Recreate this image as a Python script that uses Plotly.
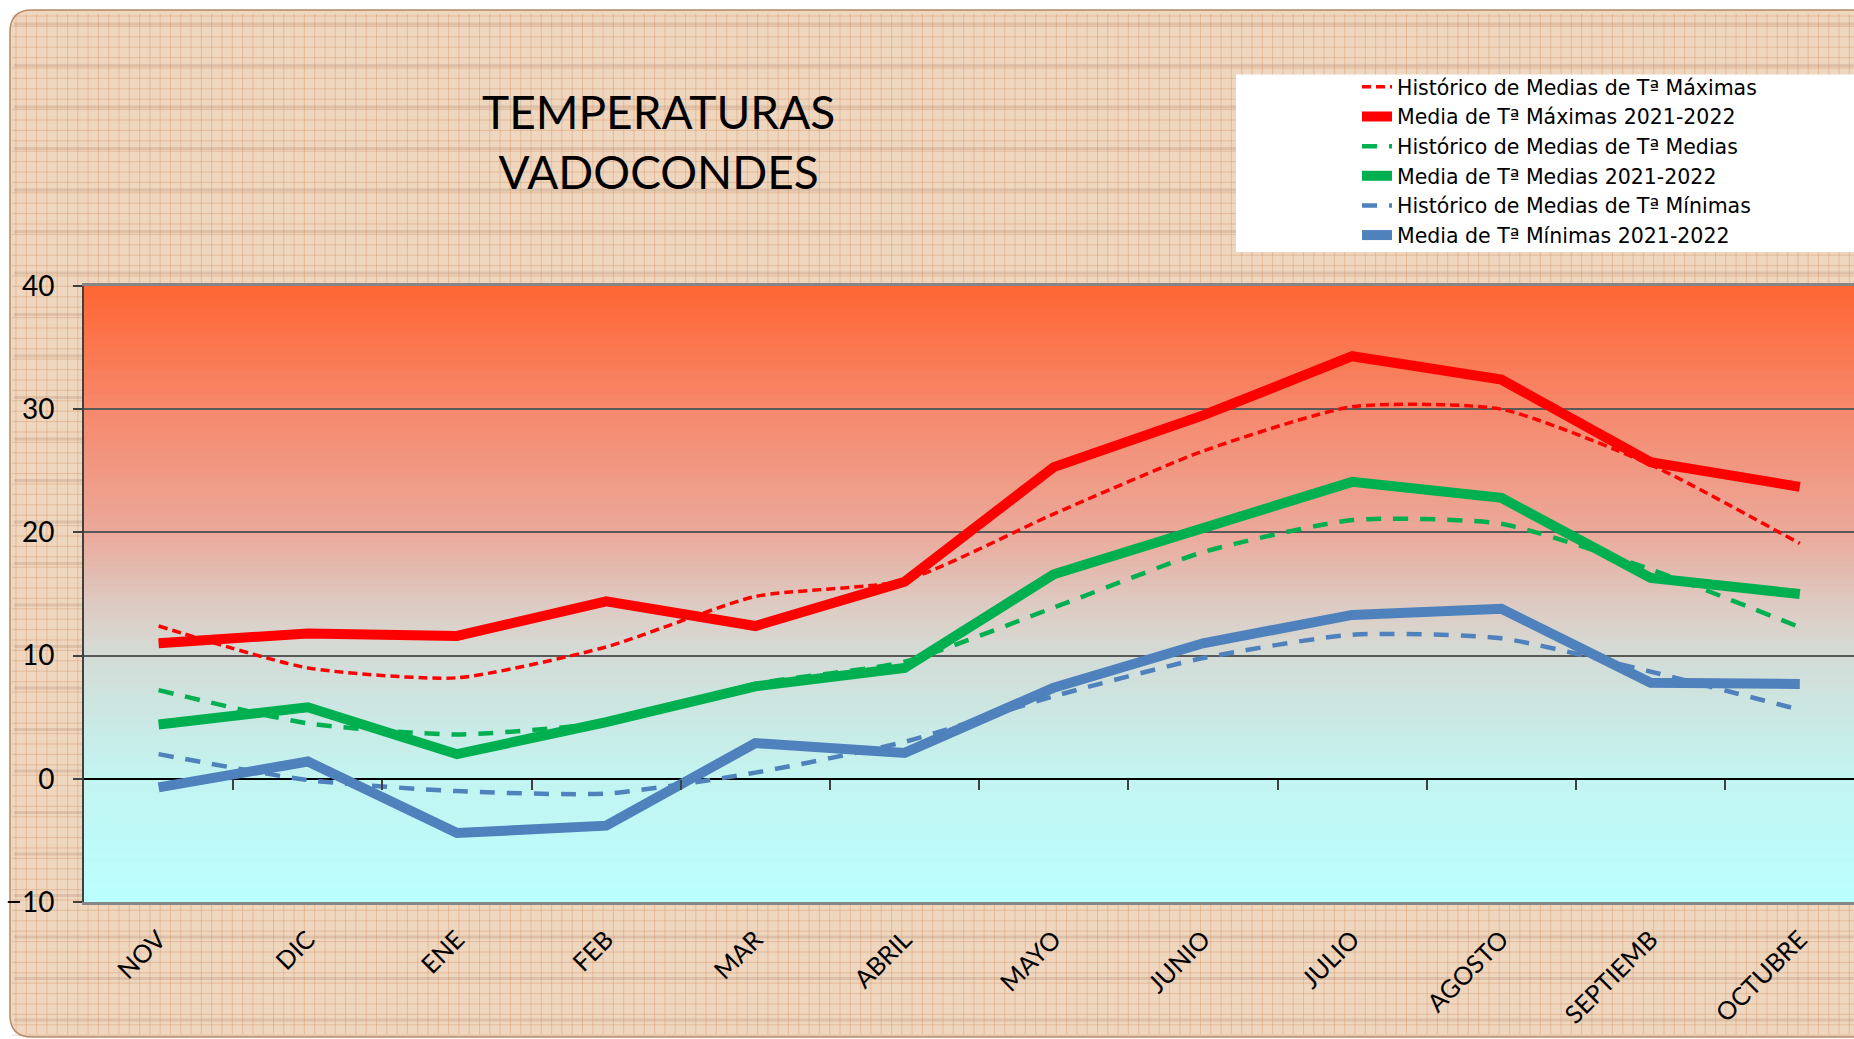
import plotly.graph_objects as go

# ---------------- data ----------------
months = ["NOV", "DIC", "ENE", "FEB", "MAR", "ABRIL", "MAYO", "JUNIO", "JULIO", "AGOSTO", "SEPTIEMB", "OCTUBRE"]
hist_max = [12.4, 9.0, 8.2, 10.7, 14.8, 16.1, 21.5, 26.6, 30.2, 30.0, 25.5, 19.1]
media_max = [11.0, 11.8, 11.6, 14.4, 12.4, 16.0, 25.3, 29.5, 34.3, 32.4, 25.7, 23.7]
hist_med = [7.2, 4.5, 3.6, 4.6, 7.7, 9.5, 13.9, 18.4, 21.0, 20.7, 17.0, 12.3]
media_med = [4.4, 5.8, 2.0, 4.6, 7.5, 9.0, 16.6, 20.4, 24.1, 22.8, 16.3, 15.0]
hist_min = [2.0, -0.1, -1.0, -1.2, 0.5, 3.0, 6.7, 9.8, 11.7, 11.4, 8.7, 5.6]
media_min = [-0.7, 1.4, -4.4, -3.8, 2.9, 2.1, 7.4, 11.0, 13.3, 13.8, 7.8, 7.7]

series_names = [
    "Histórico de Medias de Tª Máximas",
    "Media de Tª Máximas 2021-2022",
    "Histórico de Medias de Tª Medias",
    "Media de Tª Medias 2021-2022",
    "Histórico de Medias de Tª Mínimas",
    "Media de Tª Mínimas 2021-2022",
]

W, H = 1854, 1039
FONT = "Lato"
LFONT = "DejaVu Sans"

# plot area in px
PX0, PX1 = 84, 1854
PY0, PY1 = 286, 902
cat_w = 149.2
x_hi = -0.5 + (PX1 - PX0) / cat_w

def px(x):
    return x / W

def py(y):
    return 1 - y / H

dom_x = [px(PX0), 1.0]
dom_y = [py(PY1), py(PY0)]

fig = go.Figure()

RED, GREEN, BLUE = "#FF0000", "#00B050", "#4F81BD"

fig.add_trace(go.Scatter(x=months, y=hist_max, mode="lines", name=series_names[0],
                         line=dict(color=RED, width=3.5, dash="9px,5px", shape="spline", smoothing=0.6)))
fig.add_trace(go.Scatter(x=months, y=media_max, mode="lines", name=series_names[1],
                         line=dict(color=RED, width=10)))
fig.add_trace(go.Scatter(x=months, y=hist_med, mode="lines", name=series_names[2],
                         line=dict(color=GREEN, width=4.5, dash="15px,12px", shape="spline", smoothing=0.6)))
fig.add_trace(go.Scatter(x=months, y=media_med, mode="lines", name=series_names[3],
                         line=dict(color=GREEN, width=10)))
fig.add_trace(go.Scatter(x=months, y=hist_min, mode="lines", name=series_names[4],
                         line=dict(color=BLUE, width=4.5, dash="15px,12px", shape="spline", smoothing=0.6)))
fig.add_trace(go.Scatter(x=months, y=media_min, mode="lines", name=series_names[5],
                         line=dict(color=BLUE, width=10)))
# empty trace to create the tick axis at y=0
fig.add_trace(go.Scatter(x=[], y=[], xaxis="x2", yaxis="y", showlegend=False, hoverinfo="skip"))

shapes = []
# rounded background panel
x0, x1 = px(10), px(1880)
y_top, y_bot = py(10), py(1037)
rx, ry = 22 / W, 22 / H
panel = (f"M {x0+rx},{y_top} L {x1},{y_top} L {x1},{y_bot} L {x0+rx},{y_bot} "
         f"Q {x0},{y_bot} {x0},{y_bot+ry} L {x0},{y_top-ry} Q {x0},{y_top} {x0+rx},{y_top} Z")
shapes.append(dict(type="path", xref="paper", yref="paper", path=panel,
                   fillcolor="#EFD6BF", line=dict(color="#B48A68", width=1.5), layer="below"))

# wood-like streaks
streak = []
yy = 24
while yy < 1034:
    streak.append(f"M {px(14)},{py(yy)} L {px(1854)},{py(yy)}")
    yy += 41.5
shapes.append(dict(type="path", xref="paper", yref="paper", path=" ".join(streak),
                   line=dict(color="rgba(140,95,60,0.18)", width=3), layer="below"))

# graph-paper grid
grid = []
gx = 16.0
while gx < W:
    grid.append(f"M {px(gx)},{py(14)} L {px(gx)},{py(1034)}")
    gx += 10.3
gy = 16.0
while gy < 1036:
    grid.append(f"M {px(12)},{py(gy)} L {px(1854)},{py(gy)}")
    gy += 10.4
shapes.append(dict(type="path", xref="paper", yref="paper", path=" ".join(grid),
                   line=dict(color="rgba(205,140,90,0.36)", width=1), layer="below"))

# legend white box
shapes.append(dict(type="rect", xref="paper", yref="paper", x0=px(1236), x1=px(1870),
                   y0=py(252), y1=py(74.5), fillcolor="white", line=dict(width=0), layer="below"))

# plot-area gradient
stops = [(-10, (0xBB, 0xFF, 0xFF)), (0, (0xC2, 0xF4, 0xF1)), (10, (0xD4, 0xDC, 0xD6)),
         (14, (0xDD, 0xCB, 0xC3)), (20, (0xEB, 0xA9, 0x9A)), (30, (0xF6, 0x88, 0x6C)),
         (40, (0xFF, 0x66, 0x33))]

def col_at(v):
    for (a, ca), (b, cb) in zip(stops[:-1], stops[1:]):
        if a <= v <= b:
            t = (v - a) / (b - a)
            c = [round(ca[i] + (cb[i] - ca[i]) * t) for i in range(3)]
            return f"rgb({c[0]},{c[1]},{c[2]})"
    return "rgb(255,102,51)"

N = 125
step = 50 / N
for i in range(N):
    lo = -10 + i * step
    hi = lo + step
    shapes.append(dict(type="rect", xref="paper", yref="y", x0=dom_x[0], x1=1.0,
                       y0=lo, y1=min(hi + step * 0.3, 40), fillcolor=col_at((lo + hi) / 2),
                       line=dict(width=0), layer="below"))

fig.update_layout(
    width=W, height=H,
    margin=dict(l=0, r=0, t=0, b=0, autoexpand=False),
    paper_bgcolor="white",
    plot_bgcolor="rgba(0,0,0,0)",
    shapes=shapes,
    font=dict(family=FONT, color="black"),
    showlegend=True,
    legend=dict(x=px(1357), y=py(67), xanchor="left", yanchor="top",
                bgcolor="rgba(0,0,0,0)", font=dict(family=LFONT, size=20.5, color="black"),
                tracegroupgap=0, itemwidth=30),
    xaxis=dict(domain=dom_x, type="category", range=[-0.5, x_hi], showgrid=False,
               showline=True, linecolor="#868686", linewidth=3, mirror=True,
               ticks="", tickangle=-45, tickfont=dict(family=FONT, size=25, color="black"),
               ticklabelstandoff=10, fixedrange=True, anchor="y", automargin=False),
    xaxis2=dict(overlaying="x", anchor="free", position=py(779), range=[-0.5, x_hi],
                tickvals=[i + 0.5 for i in range(len(months))], ticks="outside", ticklen=10,
                tickwidth=1.5, tickcolor="#404040", showticklabels=False, showgrid=False,
                showline=False, zeroline=False, side="bottom", automargin=False),
    yaxis=dict(domain=dom_y, range=[-10, 40], tickvals=[-10, 0, 10, 20, 30, 40],
               showgrid=True, gridcolor="#595959", gridwidth=1.5,
               zeroline=True, zerolinecolor="black", zerolinewidth=1.5,
               showline=True, linecolor="#404040", linewidth=2,
               ticks="outside", ticklen=9, tickwidth=1.5, tickcolor="#404040",
               tickfont=dict(family=FONT, size=28, color="black"), ticklabelstandoff=13,
               anchor="x", automargin=False, fixedrange=True),
    annotations=[dict(text="TEMPERATURAS<br>VADOCONDES", xref="paper", yref="paper",
                      x=px(658), y=py(142), xanchor="center", yanchor="middle", showarrow=False,
                      font=dict(family=FONT, size=46, color="black"))],
)

fig.write_html("out.html", config={"displayModeBar": False},
               post_script="document.body.style.margin='0';document.body.style.overflow='hidden';")
